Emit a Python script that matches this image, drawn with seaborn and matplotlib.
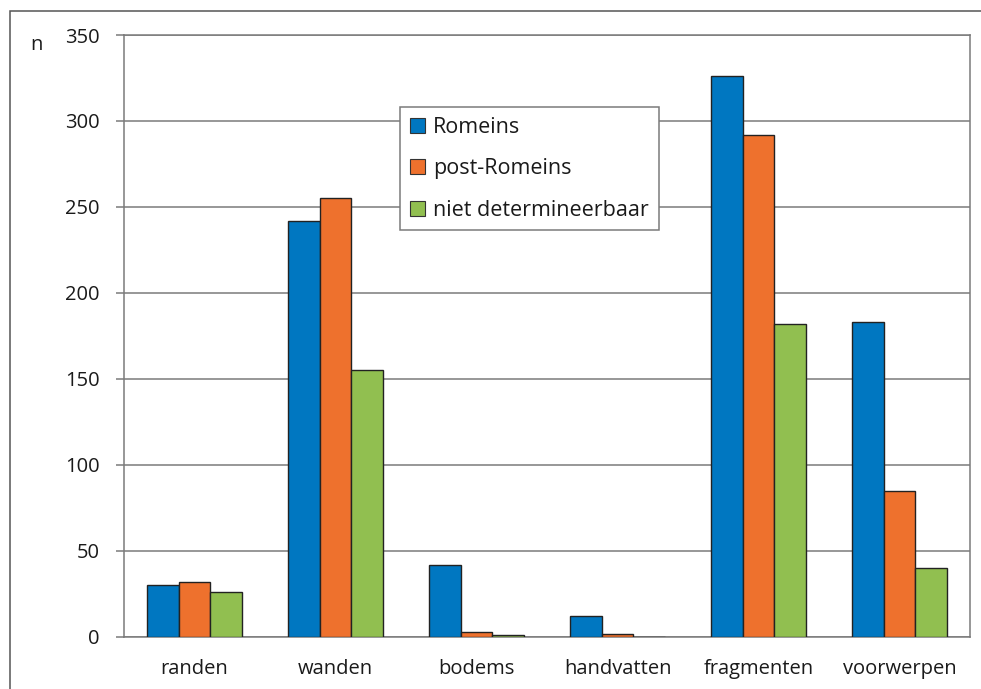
import pandas as pd
import matplotlib.pyplot as plt
import seaborn as sns
from matplotlib.patches import Patch, Rectangle

# Data
categories = ['randen', 'wanden', 'bodems', 'handvatten', 'fragmenten', 'voorwerpen']
series = ['Romeins', 'post-Romeins', 'niet determineerbaar']
romeins = [30, 242, 42, 12, 326, 183]
post_romeins = [32, 255, 3, 2, 292, 85]
niet_det = [26, 155, 1, 0, 182, 40]
colors = ['#0077C1', '#EE712D', '#91BF50']
y_ticks = [0, 50, 100, 150, 200, 250, 300, 350]

rows = []
for name, vals in zip(series, [romeins, post_romeins, niet_det]):
    for cat, v in zip(categories, vals):
        rows.append({'categorie': cat, 'groep': name, 'n': v})
df = pd.DataFrame(rows)

sns.set_style('white')
plt.rcParams['font.family'] = ['Open Sans', 'DejaVu Sans']

fig = plt.figure(figsize=(9.81, 6.89), dpi=100)
ax = fig.add_axes([0.1264, 0.0755, 0.8624, 0.8737])

sns.barplot(data=df, x='categorie', y='n', hue='groep', hue_order=series,
            palette=colors, width=0.667, gap=0, edgecolor='#222222',
            linewidth=1.0, saturation=1, legend=False, ax=ax, zorder=3)

ax.set_ylim(0, 350)
ax.set_xlim(-0.5, 5.5)
ax.set_yticks(y_ticks)
ax.yaxis.grid(True, color='#7a7a7a', linewidth=1.1, zorder=0)
ax.set_axisbelow(True)
ax.set_xlabel('')
ax.set_ylabel('')

ax.set_xticks(range(len(categories)))
ax.set_xticklabels(categories)
ax.set_xticks([i - 0.5 for i in range(len(categories) + 1)], minor=True)
ax.tick_params(axis='x', which='major', length=0, pad=16, labelsize=14.5, labelcolor='#1a1a1a')
ax.tick_params(axis='x', which='minor', length=5.5, width=1.1, color='#7a7a7a', direction='out')
ax.tick_params(axis='y', length=5.5, width=1.1, color='#7a7a7a', pad=12, labelsize=14.5,
               labelcolor='#1a1a1a', left=True)

for side in ['left', 'right', 'bottom', 'top']:
    ax.spines[side].set_visible(True)
    ax.spines[side].set_color('#7a7a7a')
    ax.spines[side].set_linewidth(1.1)

handles = [Patch(facecolor=c, edgecolor='#333333', linewidth=0.8) for c in colors]
leg = fig.legend(handles, series, loc='upper left', bbox_to_anchor=(0.4077, 0.8447),
                 fontsize=15.5, frameon=True, fancybox=False, edgecolor='#7a7a7a',
                 framealpha=1, handlelength=0.7, handleheight=0.7, handletextpad=0.4,
                 labelspacing=0.95, borderpad=0.45, borderaxespad=0)
leg.get_frame().set_linewidth(1.1)
for t in leg.get_texts():
    t.set_color('#1a1a1a')

fig.text(0.037, 0.935, 'n', fontsize=14.5, color='#1a1a1a', ha='center', va='center')

# outer frame around the figure
fig.patches.append(Rectangle((10 / 981, -0.05), 1.1, 1.05 - 11 / 689,
                             transform=fig.transFigure, fill=False,
                             edgecolor='#555555', linewidth=1.1))

fig.savefig('out.png', dpi=100)
